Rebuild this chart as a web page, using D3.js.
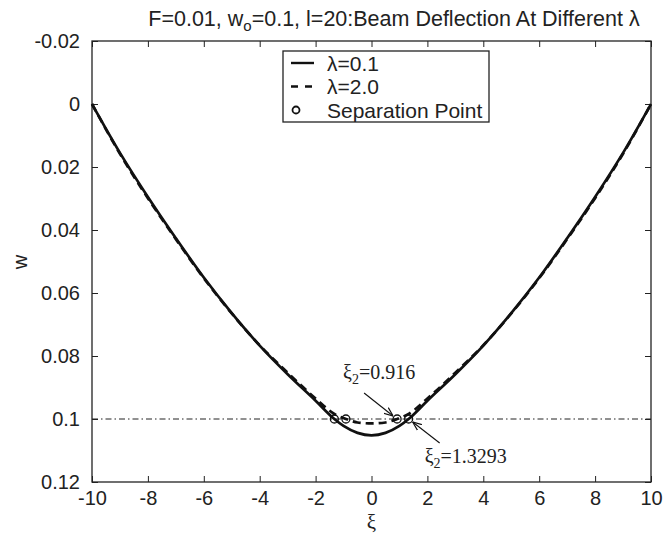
<!DOCTYPE html>
<html>
<head>
<meta charset="utf-8">
<script src="https://cdn.jsdelivr.net/npm/d3@7"></script>
<style>
  body { margin: 0; background: #fff; }
  text { font-family: Arial, "Liberation Sans", sans-serif; fill: #222; }
  .serif { font-family: "Times New Roman", "Liberation Serif", serif; }
</style>
</head>
<body>
<div id="chart"></div>
<script>
// Values
const xiSolid = [-10, -9, -8, -7, -6, -5, -4, -3, -2, -1.3293, -1, -0.5, 0,
                 0.5, 1, 1.3293, 2, 3, 4, 5, 6, 7, 8, 9, 10];
const wSolid = [0, 0.0155, 0.0295, 0.0426, 0.0551, 0.0664, 0.0767, 0.0858, 0.0942, 0.1, 0.1022, 0.1044, 0.1052,
                0.1044, 0.1022, 0.1, 0.0942, 0.0858, 0.0767, 0.0664, 0.0551, 0.0426, 0.0295, 0.0155, 0];

const xiDashed = [-10, -9, -8, -7, -6, -5, -4, -3, -2, -1.3293, -0.916, -0.5, 0,
                  0.5, 0.916, 1.3293, 2, 3, 4, 5, 6, 7, 8, 9, 10];
const wDashed = [0, 0.0158, 0.0299, 0.0429, 0.0553, 0.0665, 0.0766, 0.0853, 0.0935, 0.0984, 0.1, 0.1011, 0.1014,
                 0.1011, 0.1, 0.0984, 0.0935, 0.0853, 0.0766, 0.0665, 0.0553, 0.0429, 0.0299, 0.0158, 0];

const sepXi = [-1.3293, -0.916, 0.916, 1.3293];
const sepW = 0.1;

const xTicks = [-10, -8, -6, -4, -2, 0, 2, 4, 6, 8, 10];
const xTickLabels = ["-10", "-8", "-6", "-4", "-2", "0", "2", "4", "6", "8", "10"];
const yTicks = [-0.02, 0, 0.02, 0.04, 0.06, 0.08, 0.1, 0.12];
const yTickLabels = ["-0.02", "0", "0.02", "0.04", "0.06", "0.08", "0.1", "0.12"];

const legendLabels = ["\u03bb=0.1", "\u03bb=2.0", "Separation Point"];

drawChart();

function drawChart() {
    const W = 663, H = 545;
    const margin = { top: 41, right: 12, bottom: 63, left: 92 };
    const width = W - margin.left - margin.right;
    const height = H - margin.top - margin.bottom;

    const svg = d3.select("#chart").append("svg")
        .attr("width", W)
        .attr("height", H);

    const g = svg.append("g")
        .attr("transform", `translate(${margin.left},${margin.top})`);

    const x = d3.scaleLinear().domain([-10, 10]).range([0, width]);
    // w grows downward, as in the reference
    const y = d3.scaleLinear().domain([-0.02, 0.12]).range([0, height]);

    // Axes with inward ticks on all four sides
    const tick = 6;
    const axB = g.append("g").attr("transform", `translate(0,${height})`)
        .call(d3.axisBottom(x).tickValues(xTicks).tickSizeInner(-tick).tickSizeOuter(0).tickPadding(9)
            .tickFormat((d, i) => xTickLabels[i]));
    const axT = g.append("g")
        .call(d3.axisTop(x).tickValues(xTicks).tickSizeInner(-tick).tickSizeOuter(0).tickFormat(""));
    const axL = g.append("g")
        .call(d3.axisLeft(y).tickValues(yTicks).tickSizeInner(-tick).tickSizeOuter(0).tickPadding(12)
            .tickFormat((d, i) => yTickLabels[i]));
    const axR = g.append("g").attr("transform", `translate(${width},0)`)
        .call(d3.axisRight(y).tickValues(yTicks).tickSizeInner(-tick).tickSizeOuter(0).tickFormat(""));

    [axB, axT, axL, axR].forEach(a => {
        a.select(".domain").remove();
        a.selectAll("line").attr("stroke", "#222").attr("stroke-width", 1);
        a.selectAll("text").style("font-size", "20px").attr("fill", "#222")
            .style("font-family", "Arial, 'Liberation Sans', sans-serif");
    });

    // Plot box
    g.append("rect")
        .attr("width", width).attr("height", height)
        .attr("fill", "none").attr("stroke", "#222").attr("stroke-width", 1.3);

    // Dash-dot reference line at w = 0.1
    g.append("line")
        .attr("x1", 0).attr("x2", width)
        .attr("y1", y(sepW)).attr("y2", y(sepW))
        .attr("stroke", "#222").attr("stroke-width", 1)
        .attr("stroke-dasharray", "6,3,1.5,3");

    const line = d3.line()
        .x(d => x(d[0]))
        .y(d => y(d[1]))
        .curve(d3.curveMonotoneX);

    g.append("path")
        .datum(xiDashed.map((v, i) => [v, wDashed[i]]))
        .attr("fill", "none").attr("stroke", "#111").attr("stroke-width", 2.7)
        .attr("stroke-dasharray", "8,5")
        .attr("d", line);

    g.append("path")
        .datum(xiSolid.map((v, i) => [v, wSolid[i]]))
        .attr("fill", "none").attr("stroke", "#111").attr("stroke-width", 2.7)
        .attr("d", line);

    // Separation points
    g.selectAll(".sep")
        .data(sepXi)
        .enter().append("circle")
        .attr("class", "sep")
        .attr("cx", d => x(d))
        .attr("cy", y(sepW))
        .attr("r", 4)
        .attr("fill", "none").attr("stroke", "#111").attr("stroke-width", 1.3);

    // Arrow head marker
    svg.append("defs").append("marker")
        .attr("id", "arrow")
        .attr("viewBox", "0 0 10 10")
        .attr("refX", 10).attr("refY", 5)
        .attr("markerWidth", 9).attr("markerHeight", 9)
        .attr("markerUnits", "userSpaceOnUse")
        .attr("orient", "auto")
        .append("path")
        .attr("d", "M0,1 L10,5 L0,9")
        .attr("fill", "none").attr("stroke", "#111").attr("stroke-width", 1.3);

    // Annotations
    const ann = [
        { xi: 0.916, label: "0.916", tx: x(0.916) - 54, ty: y(sepW) - 40, ax: x(0.916) - 33, ay: y(sepW) - 26 },
        { xi: 1.3293, label: "1.3293", tx: x(1.3293) + 16, ty: y(sepW) + 44, ax: x(1.3293) + 31, ay: y(sepW) + 24 }
    ];
    ann.forEach(a => {
        g.append("line")
            .attr("x1", a.ax).attr("y1", a.ay)
            .attr("x2", x(a.xi) + (a.ax < x(a.xi) ? -4 : 4))
            .attr("y2", y(sepW) + (a.ay < y(sepW) ? -3 : 3))
            .attr("stroke", "#111").attr("stroke-width", 1.1)
            .attr("marker-end", "url(#arrow)");
        const t = g.append("text").attr("class", "serif")
            .attr("x", a.tx).attr("y", a.ty)
            .style("font-size", "20px");
        t.append("tspan").text("\u03be");
        t.append("tspan").attr("dy", 5).style("font-size", "14px").text("2");
        t.append("tspan").attr("dy", -5).text("=" + a.label);
    });

    // Legend
    const lg = svg.append("g").attr("transform", "translate(283,51)");
    lg.append("rect")
        .attr("width", 206).attr("height", 71)
        .attr("fill", "#fff").attr("stroke", "#222").attr("stroke-width", 1.3);
    legendLabels.forEach((lab, i) => {
        const cy = 12 + i * 23.5;
        if (i === 0 || i === 1) {
            lg.append("line")
                .attr("x1", 8).attr("x2", 31).attr("y1", cy).attr("y2", cy)
                .attr("stroke", "#111").attr("stroke-width", 2.4)
                .attr("stroke-dasharray", i === 1 ? "7,7" : null);
        } else {
            lg.append("circle").attr("cx", 13).attr("cy", cy).attr("r", 3.5)
                .attr("fill", "none").attr("stroke", "#111").attr("stroke-width", 1.8);
        }
        lg.append("text")
            .attr("x", 44).attr("y", cy + 7.5)
            .style("font-size", "21px")
            .text(lab);
    });

    // Title
    const title = svg.append("text")
        .attr("x", 394).attr("y", 26)
        .attr("text-anchor", "middle")
        .style("font-size", "21.5px");
    title.append("tspan").text("F=0.01, w");
    title.append("tspan").attr("dy", 5).style("font-size", "15px").text("o");
    title.append("tspan").attr("dy", -5).text("=0.1, l=20:Beam Deflection At Different \u03bb");

    // Axis labels
    svg.append("text").attr("class", "serif")
        .attr("x", margin.left + width / 2).attr("y", 529)
        .attr("text-anchor", "middle")
        .style("font-size", "21px")
        .text("\u03be");

    svg.append("text")
        .attr("transform", "rotate(-90)")
        .attr("x", -262).attr("y", 27)
        .attr("text-anchor", "middle")
        .style("font-size", "20px")
        .text("w");
}
</script>
</body>
</html>
